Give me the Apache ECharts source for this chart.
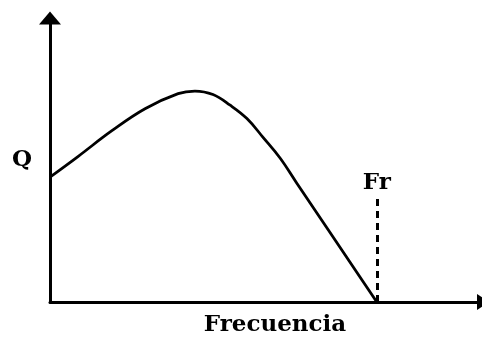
<!DOCTYPE html>
<html>
<head>
<meta charset="utf-8">
<script src="https://cdn.jsdelivr.net/npm/echarts@6/dist/echarts.min.js"></script>
<style>
  html, body { margin: 0; padding: 0; background: #fff; }
  #chart { width: 482px; height: 338px; }
</style>
</head>
<body>
<div id="chart"></div>
<script>
// Quality factor Q against frequency, falling to zero at the resonance Fr
const freq = [0, 6.5, 14.4, 22.1, 29.8, 33.7, 37.9, 41.9, 45.8, 49.5, 53.5, 57.4, 76.0];
const q    = [43.1, 50.2, 59.1, 66.7, 71.9, 72.8, 71.6, 67.9, 63.3, 56.9, 49.7, 41.0, 0];
const frX = 76.0;
const frTop = 35.9;
const xName = 'Frecuencia';
const yName = 'Q';
const frName = 'Fr';

const font = 'DejaVu Serif';
const chart = echarts.init(document.getElementById('chart'), null, { renderer: 'canvas' });

chart.setOption({
  animation: false,
  backgroundColor: '#fff',
  grid: { left: 50, right: -1, top: 18, bottom: 36, containLabel: false, outerBoundsMode: 'none' },
  xAxis: {
    type: 'value', min: 0, max: 100.7,
    name: xName, nameLocation: 'middle', nameGap: 12,
    nameTextStyle: { fontFamily: font, fontWeight: 'bold', fontSize: 23, color: '#000', padding: [0, 0, 0, 17] },
    axisLine: { show: true, lineStyle: { color: '#000', width: 3 }, symbol: ['none', 'triangle'], symbolSize: [16, 12] },
    axisTick: { show: false }, axisLabel: { show: false }, splitLine: { show: false }
  },
  yAxis: {
    type: 'value', min: 0, max: 98,
    name: yName, nameLocation: 'middle', nameGap: 18, nameRotate: 0,
    nameTextStyle: { fontFamily: font, fontWeight: 'bold', fontSize: 23, color: '#000', padding: [0, 0, 12, 0] },
    axisLine: { show: true, lineStyle: { color: '#000', width: 3 }, symbol: ['none', 'triangle'], symbolSize: [22, 13] },
    axisTick: { show: false }, axisLabel: { show: false }, splitLine: { show: false }
  },
  series: [{
    type: 'line',
    data: freq.map((f, i) => [f, q[i]]),
    smooth: 0.4,
    showSymbol: false,
    lineStyle: { color: '#000', width: 2.8 },
    markLine: {
      silent: true,
      symbol: ['none', 'none'],
      lineStyle: { color: '#000', width: 3, type: [7, 5] },
      label: {
        show: true, position: 'end', formatter: frName, distance: 3,
        fontFamily: font, fontWeight: 'bold', fontSize: 23, color: '#000'
      },
      data: [[{ coord: [frX, 0] }, { coord: [frX, frTop] }]]
    }
  }]
});
</script>
</body>
</html>
